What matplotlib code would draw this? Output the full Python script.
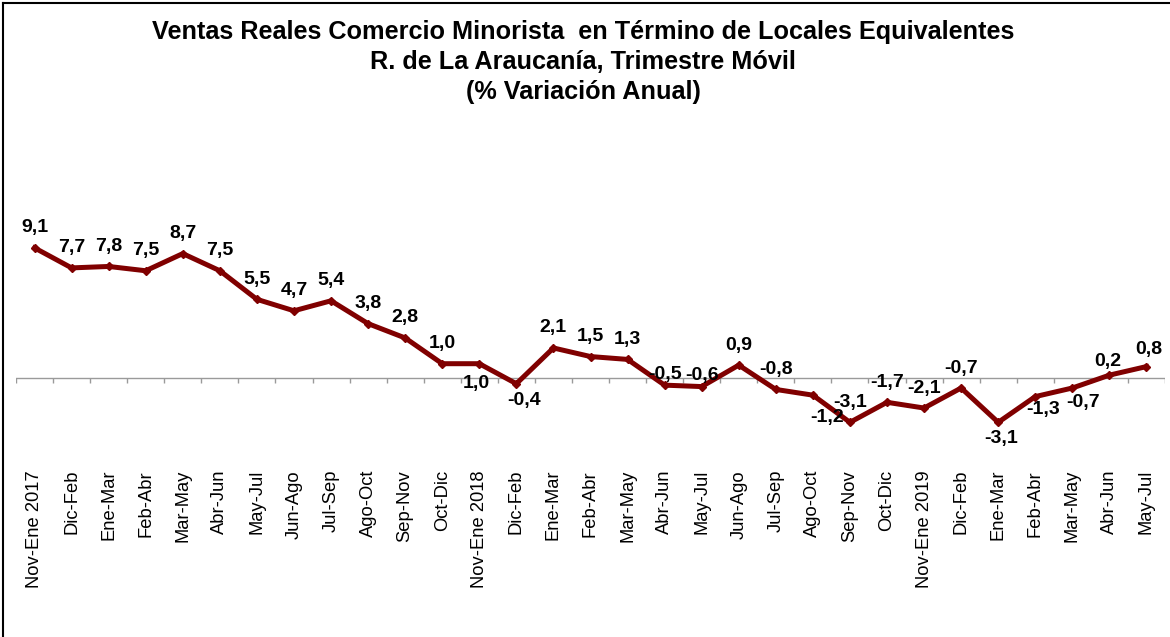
import numpy as np
import matplotlib
matplotlib.use("Agg")
import matplotlib.pyplot as plt
from matplotlib.lines import Line2D

plt.rcParams["font.family"] = ["Liberation Sans", "DejaVu Sans"]

# ── datos ────────────────────────────────────────────────────────────────
periodos = [
    "Nov-Ene 2017", "Dic-Feb", "Ene-Mar", "Feb-Abr", "Mar-May", "Abr-Jun",
    "May-Jul", "Jun-Ago", "Jul-Sep", "Ago-Oct", "Sep-Nov", "Oct-Dic",
    "Nov-Ene 2018", "Dic-Feb", "Ene-Mar", "Feb-Abr", "Mar-May", "Abr-Jun",
    "May-Jul", "Jun-Ago", "Jul-Sep", "Ago-Oct", "Sep-Nov", "Oct-Dic",
    "Nov-Ene 2019", "Dic-Feb", "Ene-Mar", "Feb-Abr", "Mar-May", "Abr-Jun",
    "May-Jul",
]
variacion = [
    9.1, 7.7, 7.8, 7.5, 8.7, 7.5, 5.5, 4.7, 5.4, 3.8, 2.8, 1.0,
    1.0, -0.4, 2.1, 1.5, 1.3, -0.5, -0.6, 0.9, -0.8, -1.2, -3.1, -1.7,
    -2.1, -0.7, -3.1, -1.3, -0.7, 0.2, 0.8,
]

# desplazamiento de cada etiqueta (pixeles, y hacia abajo)
offsets = [(0, -20)] * len(variacion)
offsets[12] = (-3, 20)
offsets[13] = (8, 17)
offsets[17] = (0, -11)
offsets[18] = (0, -11)
offsets[21] = (14, 22)
offsets[26] = (3, 16)
offsets[27] = (8, 13)
offsets[28] = (11, 14)
offsets[29] = (-2, -14)
offsets[30] = (2, -17)

W, H = 1170, 637
fig = plt.figure(figsize=(W / 100, H / 100), dpi=100)

# ejes en coordenadas de pixel
ax_l, ax_r, ax_t, ax_b = 16, 1165, 120, 440
ax = fig.add_axes([ax_l / W, 1 - ax_b / H, (ax_r - ax_l) / W, (ax_b - ax_t) / H])
px_unit = 14.3
y_zero = 378
ax.set_ylim(-(ax_b - y_zero) / px_unit, (y_zero - ax_t) / px_unit)
ax.set_xlim(-0.5, len(variacion) - 0.5)
ax.axis("off")

x = np.arange(len(variacion))

# eje horizontal en cero + marcas entre categorias
ax.axhline(0, color="#9a9a9a", lw=1.0, zorder=1)
bordes = np.arange(len(variacion) + 1) - 0.5
tick_len = 5 / px_unit
ax.vlines(bordes, -tick_len, 0, color="#9a9a9a", lw=1.0, zorder=1)

ax.plot(x, variacion, color="#800000", lw=3.6, marker="D", markersize=4,
        markerfacecolor="#800000", markeredgecolor="#800000", zorder=3)

for xi, v, (dx, dy) in zip(x, variacion, offsets):
    ax.annotate(f"{v:.1f}".replace(".", ","), xy=(xi, v),
                xytext=(dx, -dy), textcoords="offset pixels",
                ha="center", va="center", fontsize=14, fontweight="bold",
                color="black", zorder=4)

# etiquetas de categoria (posicion baja, rotadas)
y_lab = -(470 - ax_b) / (ax_b - ax_t)
for xi, lab in zip(x, periodos):
    ax.text(xi, y_lab, lab, transform=ax.get_xaxis_transform(),
            rotation=90, ha="center", va="top", fontsize=13.2)

# titulo
titulo = ["Ventas Reales Comercio Minorista  en Término de Locales Equivalentes",
          "R. de La Araucanía, Trimestre Móvil",
          "(% Variación Anual)"]
for i, t in enumerate(titulo):
    fig.text(583 / W, 1 - (32 + 30 * i) / H, t, ha="center", va="center",
             fontsize=18.2, fontweight="bold")

# marco del grafico (solo izquierda y arriba visibles)
fig.add_artist(Line2D([3 / W, 3 / W], [0, 1 - 3 / H], color="black", lw=1.5))
fig.add_artist(Line2D([3 / W, 1], [1 - 3 / H, 1 - 3 / H], color="black", lw=1.5))

fig.savefig("out.png", dpi=100)
plt.close(fig)
